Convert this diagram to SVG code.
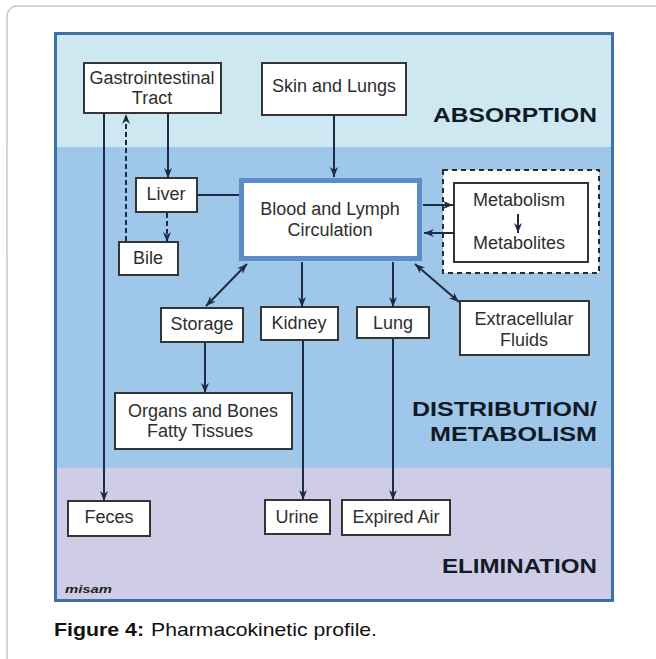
<svg xmlns="http://www.w3.org/2000/svg" width="656" height="659" viewBox="0 0 656 659">
<defs>
<style>
.box{fill:#ffffff;stroke:#353535;stroke-width:2}
.t{font-family:"Liberation Sans",Arial,sans-serif;font-size:18px;fill:#2e2e2e;text-anchor:middle}
.lbl{font-family:"Liberation Sans",Arial,sans-serif;font-size:21px;font-weight:bold;fill:#121a26;text-anchor:end}
.c{stroke:#1d2b45;stroke-width:2;fill:none}
.d{stroke:#1d2b45;stroke-width:2;fill:none;stroke-dasharray:5,3}
</style>
<marker id="ah" viewBox="0 0 10 10" refX="10" refY="5" markerWidth="10" markerHeight="10" markerUnits="userSpaceOnUse" orient="auto-start-reverse">
<path d="M0,1 L10,5 L0,9 L3,5 z" fill="#1d2b45"/>
</marker>
</defs>
<rect x="7" y="6" width="720" height="720" rx="10" fill="#ffffff" stroke="#c9c9c9" stroke-width="1.5"/>
<g id="frame">
<rect x="55" y="33" width="558" height="114" fill="#cde8f0"/>
<rect x="55" y="147" width="558" height="321" fill="#9fc7ea"/>
<rect x="55" y="468" width="558" height="132" fill="#cfcde6"/>
<rect x="55.5" y="33.5" width="557" height="567" fill="none" stroke="#3e70aa" stroke-width="3"/>
<text class="lbl" x="597" y="122" textLength="164" lengthAdjust="spacingAndGlyphs">ABSORPTION</text>
<text class="lbl" x="597" y="416" textLength="185" lengthAdjust="spacingAndGlyphs">DISTRIBUTION/</text>
<text class="lbl" x="597" y="441" textLength="167" lengthAdjust="spacingAndGlyphs">METABOLISM</text>
<text class="lbl" x="597" y="573" textLength="155" lengthAdjust="spacingAndGlyphs">ELIMINATION</text>
<text x="65" y="593" font-family="Liberation Sans,Arial,sans-serif" font-size="10" font-weight="bold" font-style="italic" fill="#222" textLength="47" lengthAdjust="spacingAndGlyphs">misam</text>
</g>
<g id="gi">
<rect class="box" x="84" y="63" width="137" height="50"/>
<text class="t" x="152" y="84">Gastrointestinal</text>
<text class="t" x="152" y="104">Tract</text>
</g>
<g id="skin">
<rect class="box" x="262" y="63" width="144" height="52"/>
<text class="t" x="334" y="92">Skin and Lungs</text>
</g>
<g id="liver">
<rect class="box" x="136" y="178" width="61" height="34"/>
<text class="t" x="166" y="200">Liver</text>
</g>
<g id="bile">
<rect class="box" x="119" y="242" width="59" height="33"/>
<text class="t" x="148" y="264">Bile</text>
</g>
<g id="blood">
<rect x="241.5" y="180.5" width="178" height="78" fill="#ffffff" stroke="#5a8dca" stroke-width="5"/>
<text class="t" x="330" y="215">Blood and Lymph</text>
<text class="t" x="330" y="236">Circulation</text>
</g>
<g id="metabolism">
<rect x="443" y="170" width="156" height="103" fill="#ffffff" stroke="#2b2b2b" stroke-width="2" stroke-dasharray="5,4"/>
<rect class="box" x="454" y="183" width="134" height="79"/>
<text class="t" x="519" y="206">Metabolism</text>
<text class="t" x="519" y="249">Metabolites</text>
</g>
<g id="storage">
<rect class="box" x="161" y="308" width="82" height="34"/>
<text class="t" x="202" y="330">Storage</text>
</g>
<g id="kidney">
<rect class="box" x="261" y="307" width="77" height="33"/>
<text class="t" x="299" y="329">Kidney</text>
</g>
<g id="lung">
<rect class="box" x="357" y="307" width="72" height="31"/>
<text class="t" x="393" y="329">Lung</text>
</g>
<g id="extracellular">
<rect class="box" x="460" y="301" width="129" height="54"/>
<text class="t" x="524" y="325">Extracellular</text>
<text class="t" x="524" y="346">Fluids</text>
</g>
<g id="organs">
<rect class="box" x="115" y="393" width="177" height="56"/>
<text class="t" x="203" y="417">Organs and Bones</text>
<text class="t" x="200" y="437">Fatty Tissues</text>
</g>
<g id="feces">
<rect class="box" x="68" y="501" width="82" height="35"/>
<text class="t" x="109" y="523">Feces</text>
</g>
<g id="urine">
<rect class="box" x="265" y="500" width="65" height="34"/>
<text class="t" x="297" y="523">Urine</text>
</g>
<g id="expired">
<rect class="box" x="342" y="500" width="108" height="35"/>
<text class="t" x="396" y="523">Expired Air</text>
</g>
<g id="connectors">
<line class="c" x1="104" y1="114" x2="104" y2="501" marker-end="url(#ah)"/>
<line class="c" x1="168" y1="114" x2="168" y2="178" marker-end="url(#ah)"/>
<line class="d" x1="126" y1="241" x2="126" y2="114" marker-end="url(#ah)"/>
<line class="d" x1="167" y1="213" x2="167" y2="242" marker-end="url(#ah)"/>
<line class="c" x1="334" y1="116" x2="334" y2="177" marker-end="url(#ah)"/>
<line class="c" x1="198" y1="195" x2="239" y2="195"/>
<line class="c" x1="423" y1="205" x2="453" y2="205" marker-end="url(#ah)"/>
<line class="c" x1="453" y1="233" x2="424" y2="233" marker-end="url(#ah)"/>
<line class="c" x1="518" y1="214" x2="518" y2="233" marker-end="url(#ah)"/>
<line class="c" x1="247" y1="264" x2="206" y2="306" marker-start="url(#ah)" marker-end="url(#ah)"/>
<line class="c" x1="415" y1="264" x2="459" y2="302" marker-start="url(#ah)" marker-end="url(#ah)"/>
<line class="c" x1="302" y1="262" x2="302" y2="307" marker-end="url(#ah)"/>
<line class="c" x1="393" y1="262" x2="393" y2="307" marker-end="url(#ah)"/>
<line class="c" x1="205" y1="343" x2="205" y2="393" marker-end="url(#ah)"/>
<line class="c" x1="303" y1="341" x2="303" y2="500" marker-end="url(#ah)"/>
<line class="c" x1="393" y1="339" x2="393" y2="500" marker-end="url(#ah)"/>
</g>
<g id="caption">
<text x="54" y="636" font-family="Liberation Sans,Arial,sans-serif" font-size="18.5" font-weight="bold" fill="#111" textLength="90" lengthAdjust="spacingAndGlyphs">Figure 4:</text>
<text x="151" y="636" font-family="Liberation Sans,Arial,sans-serif" font-size="18.5" fill="#111" textLength="226" lengthAdjust="spacingAndGlyphs">Pharmacokinetic profile.</text>
</g>
</svg>
